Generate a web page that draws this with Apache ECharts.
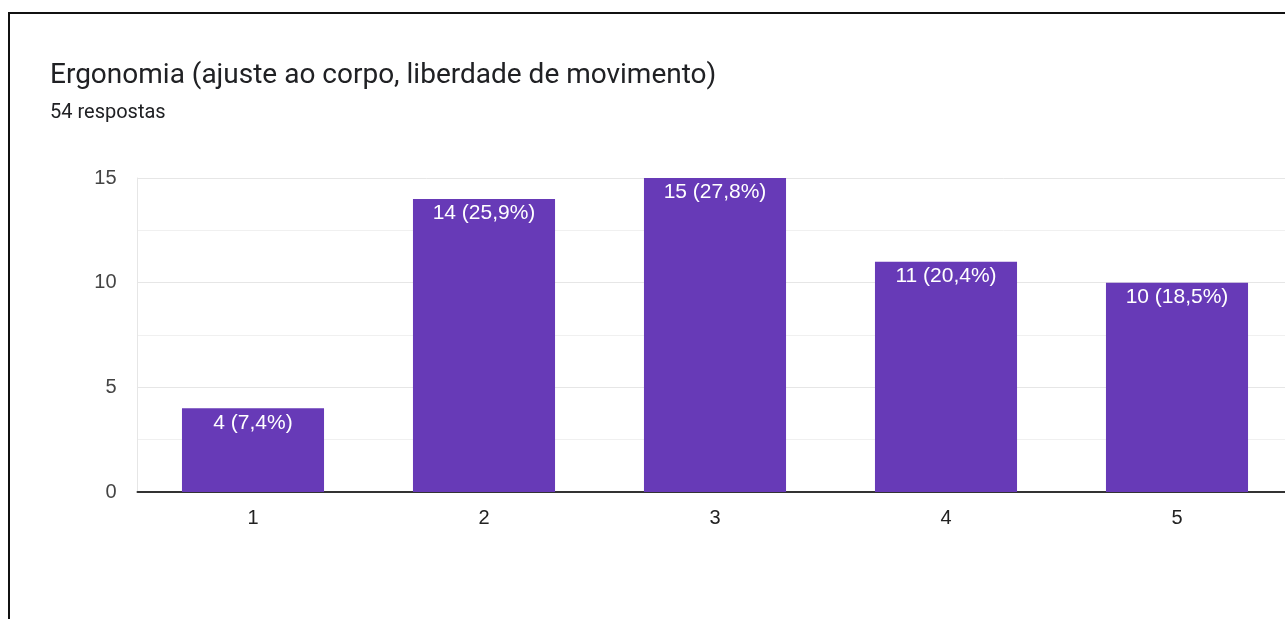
<!DOCTYPE html>
<html>
<head>
<meta charset="utf-8">
<script src="https://cdn.jsdelivr.net/npm/echarts@6/dist/echarts.min.js"></script>
<style>
  html, body { margin: 0; padding: 0; background: #fff; overflow: hidden; }
  #frame { position: absolute; left: 8px; top: 12px; width: 1400px; height: 700px;
           border-left: 2px solid #111; border-top: 2px solid #111; }
  #chart { position: absolute; left: 0; top: 0; width: 1300px; height: 619px; }
</style>
</head>
<body>
<div id="frame"></div>
<div id="chart"></div>
<script>
// dados
var categorias = ['1', '2', '3', '4', '5'];
var respostas = [4, 14, 15, 11, 10];
var percentuais = ['7,4', '25,9', '27,8', '20,4', '18,5'];
var total = 54;

var chart = echarts.init(document.getElementById('chart'));
var option = {
    animation: false,
    title: {
        text: 'Ergonomia (ajuste ao corpo, liberdade de movimento)',
        subtext: total + ' respostas',
        left: 50,
        top: 62,
        padding: 0,
        itemGap: 13,
        textStyle: { fontFamily: 'Roboto', fontSize: 28, fontWeight: 'normal', color: '#202124' },
        subtextStyle: { fontFamily: 'Roboto', fontSize: 20, color: '#202124' }
    },
    grid: { left: 137.5, right: 7.5, top: 178, bottom: 127 },
    xAxis: {
        type: 'category',
        data: categorias,
        axisTick: { show: false },
        axisLine: { lineStyle: { color: '#333', width: 2 } },
        axisLabel: { color: '#222', fontSize: 20, fontFamily: 'Arial', margin: 16 }
    },
    yAxis: {
        type: 'value',
        min: 0,
        max: 15,
        interval: 5,
        axisLine: { show: true, lineStyle: { color: '#e6e6e6', width: 1 } },
        axisTick: { show: false },
        axisLabel: { color: '#444', fontSize: 20, fontFamily: 'Arial', margin: 21 },
        splitLine: { lineStyle: { color: '#e6e6e6', width: 1 } },
        minorTick: { show: false, splitNumber: 2 },
        minorSplitLine: { show: true, lineStyle: { color: '#f0f0f0', width: 1 } }
    },
    series: [{
        type: 'bar',
        data: respostas,
        barWidth: '61.5%',
        itemStyle: { color: '#673ab7' },
        label: {
            show: true,
            position: 'insideTop',
            distance: 4,
            color: '#fff',
            fontSize: 21,
            fontFamily: 'Arial',
            formatter: function (p) {
                return p.value + ' (' + percentuais[p.dataIndex] + '%)';
            }
        }
    }]
};
chart.setOption(option);
</script>
</body>
</html>
